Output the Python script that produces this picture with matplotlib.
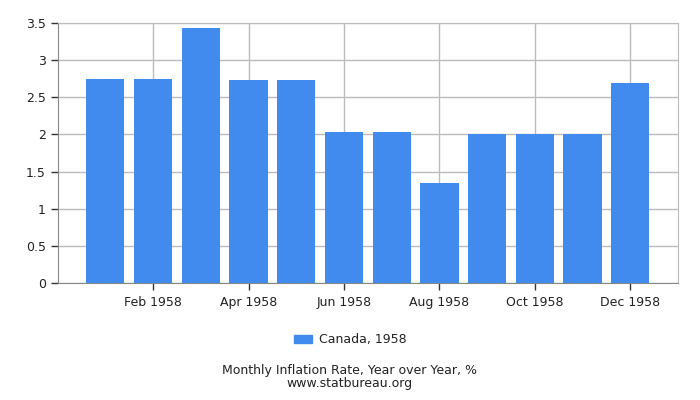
import matplotlib
matplotlib.use('Agg')
import matplotlib.pyplot as plt
import numpy as np
from matplotlib.patches import Patch

months = ['Jan 1958', 'Feb 1958', 'Mar 1958', 'Apr 1958', 'May 1958', 'Jun 1958',
          'Jul 1958', 'Aug 1958', 'Sep 1958', 'Oct 1958', 'Nov 1958', 'Dec 1958']
rates = [2.74, 2.74, 3.43, 2.73, 2.73, 2.03, 2.03, 1.35, 2.00, 2.00, 2.00, 2.69]
series_name = 'Canada, 1958'
yticks = [0, 0.5, 1, 1.5, 2, 2.5, 3, 3.5]
ytick_labels = ['0', '0.5', '1', '1.5', '2', '2.5', '3', '3.5']
caption = 'Monthly Inflation Rate, Year over Year, %\nwww.statbureau.org'

bar_color = '#418bef'
text_color = '#222222'
grid_color = '#bbbbbb'

plt.rcParams['font.family'] = ['DejaVu Sans']
plt.rcParams['font.size'] = 9

fig = plt.figure(figsize=(7, 4), dpi=100)
ax = fig.add_axes([0.0824, 0.292, 0.8862, 0.651])

x = np.arange(len(months))
ax.bar(x, rates, width=0.8, color=bar_color, zorder=3)

ax.set_xlim(-1, 12)
ax.set_ylim(0, 3.5)
ax.set_xticks(x[1::2])
ax.set_xticklabels(months[1::2], color=text_color)
ax.set_yticks(yticks)
ax.set_yticklabels(ytick_labels, color=text_color)

ax.grid(True, color=grid_color, linewidth=1, zorder=0)
for s in ax.spines.values():
    s.set_color(grid_color)
ax.spines['left'].set_color('#888888')
ax.spines['bottom'].set_color('#888888')
ax.tick_params(axis='both', direction='out', length=5, width=1, color='#333333')
ax.tick_params(axis='x', pad=4)

handles = [Patch(color=bar_color, label=series_name)]
fig.legend(handles=handles, loc='center', bbox_to_anchor=(0.5, 1 - 340 / 400),
           frameon=False, handlelength=1.5, handleheight=0.6, handletextpad=0.5,
           labelcolor=text_color, fontsize=9)

fig.text(0.5, 1 - 377 / 400, caption, ha='center', va='center',
         color=text_color, fontsize=9, linespacing=0.95)

fig.savefig('out.png', dpi=100)
